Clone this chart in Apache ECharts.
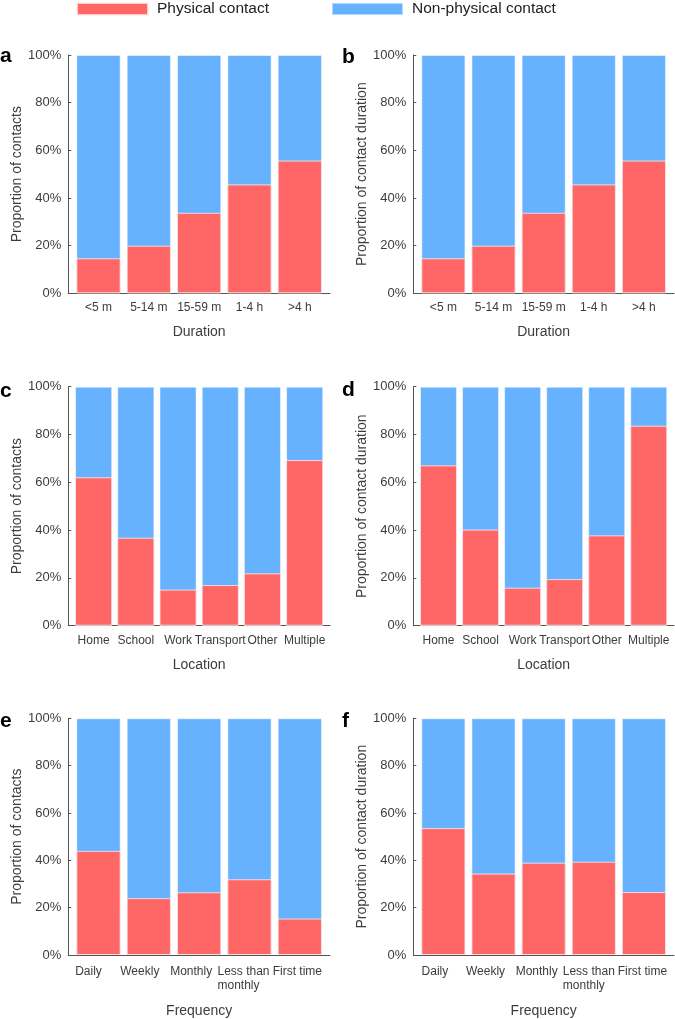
<!DOCTYPE html>
<html><head><meta charset="utf-8">
<script src="https://cdn.jsdelivr.net/npm/echarts@6/dist/echarts.min.js"></script>
<style>html,body{margin:0;padding:0;background:#fff}#c{width:675px;height:1019px}</style>
</head><body><div id="c"></div>
<script>
// ---- data ----
const durationCats = ['<5 m', '5-14 m', '15-59 m', '1-4 h', '>4 h'];
const locationCats = ['Home', 'School', 'Work', 'Transport', 'Other', 'Multiple'];
const frequencyCats = ['Daily', 'Weekly', 'Monthly', 'Less than\nmonthly', 'First time'];
const yTickLabels = ['0%', '20%', '40%', '60%', '80%', '100%'];
const seriesNames = ['Physical contact', 'Non-physical contact'];

const physA = [14.7, 20.0, 33.8, 45.7, 55.7];
const nonPhysA = [85.3, 80.0, 66.2, 54.3, 44.3];
const physB = [14.7, 20.0, 33.8, 45.7, 55.7];
const nonPhysB = [85.3, 80.0, 66.2, 54.3, 44.3];
const physC = [62.1, 36.8, 15.1, 17.0, 21.9, 69.3];
const nonPhysC = [37.9, 63.2, 84.9, 83.0, 78.1, 30.7];
const physD = [67.1, 40.2, 15.9, 19.5, 37.8, 83.7];
const nonPhysD = [32.9, 59.8, 84.1, 80.5, 62.2, 16.3];
const physE = [44.0, 24.0, 26.5, 32.0, 15.4];
const nonPhysE = [56.0, 76.0, 73.5, 68.0, 84.6];
const physF = [53.6, 34.4, 39.0, 39.4, 26.6];
const nonPhysF = [46.4, 65.6, 61.0, 60.6, 73.4];

// ---- styling / layout ----
const RED = '#FF6666', BLUE = '#66B2FF';
const AXIS = '#555', TXT = '#3c3c3c';
const FONT = '"Liberation Sans", Arial, Helvetica, sans-serif';
const XFS = 12;

const measureCtx = document.createElement('canvas').getContext('2d');
measureCtx.font = XFS + 'px "Liberation Sans", Arial, sans-serif';
const tw = (s) => measureCtx.measureText(s).width;

const panels = [
  {letter: 'a', cats: durationCats, phys: physA, non: nonPhysA, yName: 'Proportion of contacts', xName: 'Duration',
   grid: {left: 68.3, right: 345, top: 55, bottom: 725.7}, nameGapX: 32, labelShift: [0, 0, 0, 0, 0], margin: 8, ly: 56},
  {letter: 'b', cats: durationCats, phys: physB, non: nonPhysB, yName: 'Proportion of contact duration', xName: 'Duration',
   grid: {left: 413.3, right: 1, top: 55, bottom: 725.7}, nameGapX: 32, labelShift: [0, 0, 0, 0, 0], margin: 8, ly: 57},
  {letter: 'c', cats: locationCats, phys: physC, non: nonPhysC, yName: 'Proportion of contacts', xName: 'Location',
   grid: {left: 68.3, right: 345, top: 386.7, bottom: 393.3}, nameGapX: 32, labelShift: [0, 0, 0, 0, 0, 0], margin: 8, ly: 391},
  {letter: 'd', cats: locationCats, phys: physD, non: nonPhysD, yName: 'Proportion of contact duration', xName: 'Location',
   grid: {left: 413.3, right: 1, top: 386.7, bottom: 393.3}, nameGapX: 32, labelShift: [0, 0, 0, 0, 0, 0], margin: 8, ly: 390},
  {letter: 'e', cats: frequencyCats, phys: physE, non: nonPhysE, yName: 'Proportion of contacts', xName: 'Frequency',
   grid: {left: 68.3, right: 345, top: 718.3, bottom: 63}, nameGapX: 49, labelShift: [10, 9, 8, 6, 2.5], margin: 10, ly: 721},
  {letter: 'f', cats: frequencyCats, phys: physF, non: nonPhysF, yName: 'Proportion of contact duration', xName: 'Frequency',
   grid: {left: 413.3, right: 1, top: 718.3, bottom: 63}, nameGapX: 49, labelShift: [8.5, 8, 7, 5, 1.5], margin: 10, ly: 721}
];

const grids = [], xAxes = [], yAxes = [], series = [], graphics = [];
panels.forEach((p, gi) => {
  grids.push(Object.assign({containLabel: false}, p.grid));
  const n = p.cats.length;
  const idx = p.cats.map((c, i) => i);
  // Narrow right-aligned rich boxes: text overflows its box, so labels never count as overlapping;
  // shorter lines get trailing spaces so all lines of a label share one left edge.
  const rich = {};
  const spaceW = tw(' ');
  const labelText = p.cats.map((t, i) => {
    const lines = t.split('\n');
    const blockW = Math.max.apply(null, lines.map(tw));
    const L = -blockW / 2 - p.labelShift[i];
    const CW = Math.max(2, 2 * (L + blockW));
    const key = 'k' + i;
    rich[key] = {fontSize: XFS, fontFamily: FONT, color: TXT, lineHeight: 13.5, width: CW, align: 'right'};
    return lines.map((l) => {
      const nSp = Math.round(Math.max(0, blockW - tw(l)) / spaceW);
      return '{' + key + '|' + l + ' '.repeat(nSp) + '}';
    }).join('\n');
  });
  xAxes.push({
    type: 'value', gridIndex: gi, min: -0.6, max: n - 0.4,
    name: p.xName, nameLocation: 'middle', nameGap: p.nameGapX,
    nameTextStyle: {fontSize: 14, fontFamily: FONT, color: TXT},
    axisLine: {show: true, onZero: false, lineStyle: {color: AXIS, width: 1}},
    axisTick: {show: true, inside: true, length: 3, customValues: idx, lineStyle: {color: AXIS}},
    axisLabel: {show: true, customValues: idx, formatter: (v) => labelText[v], fontSize: XFS, fontFamily: FONT, color: TXT,
      margin: p.margin, lineHeight: 13.5, rich: rich, showMinLabel: true, showMaxLabel: true, hideOverlap: false},
    splitLine: {show: false}
  });
  yAxes.push({
    type: 'value', gridIndex: gi, min: 0, max: 100, interval: 20,
    name: p.yName, nameLocation: 'middle', nameGap: 43, nameRotate: 90,
    nameTextStyle: {fontSize: 14, fontFamily: FONT, color: TXT},
    axisLine: {show: true, onZero: false, lineStyle: {color: AXIS, width: 1}},
    axisTick: {show: true, inside: true, length: 3, lineStyle: {color: AXIS}},
    axisLabel: {formatter: (v) => yTickLabels[Math.round(v / 20)], fontSize: 13, fontFamily: FONT, color: TXT, margin: 7,
      showMinLabel: true, showMaxLabel: true},
    splitLine: {show: false}
  });
  // total bar (non-physical on top of physical) and physical overlay
  series.push({
    name: seriesNames[1], type: 'bar', xAxisIndex: gi, yAxisIndex: gi,
    data: p.phys.map((v, i) => [i, v + p.non[i]]),
    barCategoryGap: '12%', barGap: '-100%',
    itemStyle: {color: BLUE, borderColor: 'rgba(255,255,255,0.5)', borderWidth: 1},
    emphasis: {disabled: true}, animation: false
  });
  series.push({
    name: seriesNames[0], type: 'bar', xAxisIndex: gi, yAxisIndex: gi,
    data: p.phys.map((v, i) => [i, v]),
    barCategoryGap: '12%', barGap: '-100%',
    itemStyle: {color: RED, borderColor: 'rgba(255,235,235,0.8)', borderWidth: 1},
    emphasis: {disabled: true}, animation: false
  });
  graphics.push({
    type: 'text', x: gi % 2 === 0 ? 0 : 342, y: p.ly,
    style: {text: p.letter, font: 'bold 21px ' + FONT, fill: '#000', verticalAlign: 'middle', align: 'left'}
  });
});

const chart = echarts.init(document.getElementById('c'), null, {renderer: 'canvas'});
chart.setOption({
  backgroundColor: '#fff',
  animation: false,
  legend: {
    data: seriesNames, left: 76, top: 1, padding: 0, itemWidth: 71, itemHeight: 12, itemGap: 62, icon: 'rect',
    selectedMode: false,
    textStyle: {fontSize: 15.5, fontFamily: FONT, color: '#222', padding: [0, 0, 0, 4]}
  },
  grid: grids, xAxis: xAxes, yAxis: yAxes, series: series,
  graphic: graphics
});
</script>
</body></html>
